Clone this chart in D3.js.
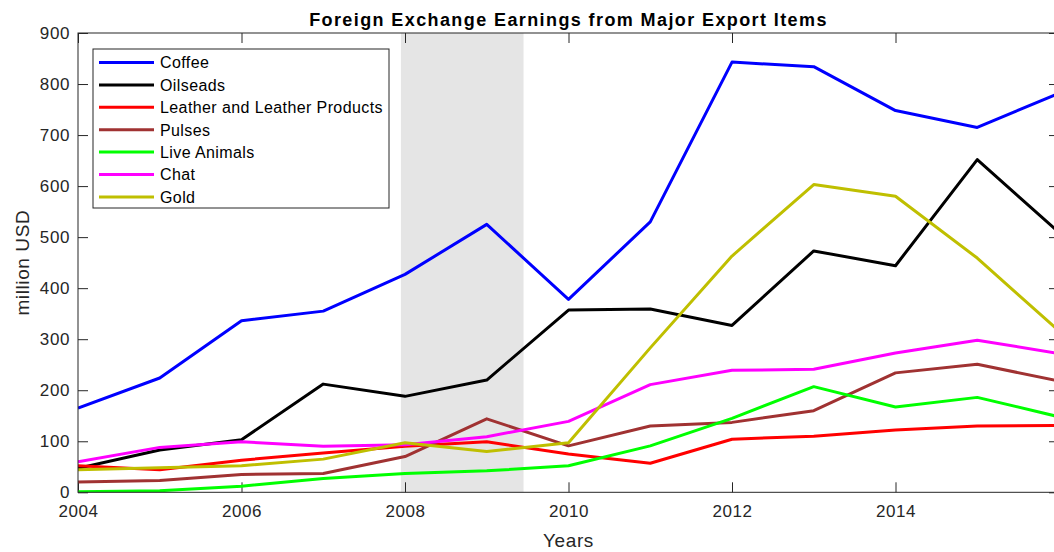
<!DOCTYPE html>
<html>
<head>
<meta charset="utf-8">
<script src="https://cdn.jsdelivr.net/npm/d3@7"></script>
<style>
  body { margin: 0; background: #fff; }
  svg { display: block; font-family: "Liberation Sans", Arial, sans-serif; }
</style>
</head>
<body>
<div id="chart"></div>
<script>
  const WIDTH = 1054;
  const HEIGHT = 552;

  const years = [2004, 2005, 2006, 2007, 2008, 2009, 2010, 2011, 2012, 2013, 2014, 2015, 2016];

  const seriesNames = ["Coffee", "Oilseads", "Leather and Leather Products", "Pulses", "Live Animals", "Chat", "Gold"];
  const seriesColors = ["#0000ff", "#000000", "#ff0000", "#a03232", "#00ff00", "#ff00ff", "#bfbf00"];

  const coffee   = [165, 224, 336, 355, 427, 525, 378, 530, 843, 834, 748, 715, 782];
  const oilseeds = [47, 83, 103, 212, 188, 220, 357, 359, 327, 473, 444, 652, 509];
  const leather  = [52, 44, 63, 77, 90, 99, 75, 57, 104, 110, 122, 130, 131];
  const pulses   = [20, 23, 35, 37, 70, 144, 91, 130, 137, 160, 234, 251, 218];
  const animals  = [1, 3, 12, 27, 37, 42, 52, 91, 145, 207, 167, 186, 148];
  const chat     = [60, 88, 99, 90, 93, 109, 139, 211, 239, 241, 273, 298, 272];
  const gold     = [44, 48, 52, 65, 97, 80, 97, 283, 463, 603, 580, 459, 316];

  const allValues = [coffee, oilseeds, leather, pulses, animals, chat, gold];

  // shaded period
  const band = [2007.95, 2009.45];

  const xTicks = [2004, 2006, 2008, 2010, 2012, 2014];
  const yTicks = [0, 100, 200, 300, 400, 500, 600, 700, 800, 900];

  const margin = { left: 78, top: 33, right: 1059, bottom: 492.3 };
  const axisColor = "#262626";

  const x = d3.scaleLinear().domain([2004, 2016]).range([margin.left, margin.right]);
  const y = d3.scaleLinear().domain([0, 900]).range([margin.bottom, margin.top]);

  const svg = d3.select("#chart").append("svg")
    .attr("width", WIDTH)
    .attr("height", HEIGHT);

  svg.append("defs").append("clipPath").attr("id", "plot-clip")
    .append("rect")
    .attr("x", margin.left).attr("y", margin.top)
    .attr("width", margin.right - margin.left)
    .attr("height", margin.bottom - margin.top);

  // grey band
  svg.append("rect")
    .attr("x", x(band[0]))
    .attr("y", margin.top)
    .attr("width", x(band[1]) - x(band[0]))
    .attr("height", margin.bottom - margin.top)
    .attr("fill", "#e5e5e5");

  // axes (ticks inward, box on)
  const tickLen = 10;
  const gAxes = svg.append("g");

  gAxes.append("g")
    .attr("transform", `translate(0,${margin.bottom})`)
    .call(d3.axisBottom(x).tickValues(xTicks).tickFormat(d3.format("d")).tickSizeInner(-tickLen).tickSizeOuter(0).tickPadding(13))
    .call(g => g.select(".domain").remove());

  gAxes.append("g")
    .attr("transform", `translate(0,${margin.top})`)
    .call(d3.axisTop(x).tickValues(xTicks).tickFormat("").tickSizeInner(-tickLen).tickSizeOuter(0))
    .call(g => g.select(".domain").remove());

  gAxes.append("g")
    .attr("transform", `translate(${margin.left},0)`)
    .call(d3.axisLeft(y).tickValues(yTicks).tickSizeInner(-tickLen).tickSizeOuter(0).tickPadding(8))
    .call(g => g.select(".domain").remove());

  gAxes.append("g")
    .attr("transform", `translate(${margin.right},0)`)
    .call(d3.axisRight(y).tickValues(yTicks).tickFormat("").tickSizeInner(-tickLen).tickSizeOuter(0))
    .call(g => g.select(".domain").remove());

  svg.selectAll(".tick line").attr("stroke", axisColor);
  svg.selectAll(".tick text")
    .attr("fill", axisColor)
    .attr("font-family", "Liberation Sans, Arial, sans-serif")
    .attr("font-size", 17)
    .attr("letter-spacing", 0.6);

  // lines
  const line = d3.line()
    .x((d, i) => x(years[i]))
    .y(d => y(d));

  svg.append("g")
    .attr("clip-path", "url(#plot-clip)")
    .selectAll("path")
    .data(allValues)
    .join("path")
    .attr("d", d => line(d))
    .attr("fill", "none")
    .attr("stroke", (d, i) => seriesColors[i])
    .attr("stroke-width", 3)
    .attr("stroke-linejoin", "round");

  // box
  svg.append("rect")
    .attr("x", margin.left)
    .attr("y", margin.top)
    .attr("width", margin.right - margin.left)
    .attr("height", margin.bottom - margin.top)
    .attr("fill", "none")
    .attr("stroke", axisColor)
    .attr("stroke-width", 1);

  // title and labels
  svg.append("text")
    .attr("x", (margin.left + margin.right) / 2)
    .attr("y", 26)
    .attr("text-anchor", "middle")
    .attr("font-size", 18)
    .attr("font-weight", "bold")
    .attr("letter-spacing", 1.4)
    .attr("fill", "#000")
    .text("Foreign Exchange Earnings from Major Export Items");

  svg.append("text")
    .attr("x", (margin.left + margin.right) / 2)
    .attr("y", 547)
    .attr("text-anchor", "middle")
    .attr("font-size", 19)
    .attr("letter-spacing", 0.6)
    .attr("fill", axisColor)
    .text("Years");

  svg.append("text")
    .attr("transform", `translate(29,${(margin.top + margin.bottom) / 2}) rotate(-90)`)
    .attr("text-anchor", "middle")
    .attr("font-size", 19)
    .attr("letter-spacing", 0.6)
    .attr("fill", axisColor)
    .text("million USD");

  // legend
  const legend = svg.append("g").attr("transform", "translate(93,49)");
  legend.append("rect")
    .attr("width", 296)
    .attr("height", 159)
    .attr("fill", "#fff")
    .attr("stroke", axisColor)
    .attr("stroke-width", 1);

  const rows = legend.selectAll("g.row")
    .data(seriesNames)
    .join("g")
    .attr("class", "row")
    .attr("transform", (d, i) => `translate(0,${13.5 + i * 22.4})`);

  rows.append("line")
    .attr("x1", 6).attr("x2", 61)
    .attr("stroke", (d, i) => seriesColors[i])
    .attr("stroke-width", 3);

  rows.append("text")
    .attr("x", 67)
    .attr("y", 5.8)
    .attr("font-size", 16)
    .attr("letter-spacing", 0.4)
    .attr("fill", "#000")
    .text(d => d);
</script>
</body>
</html>
